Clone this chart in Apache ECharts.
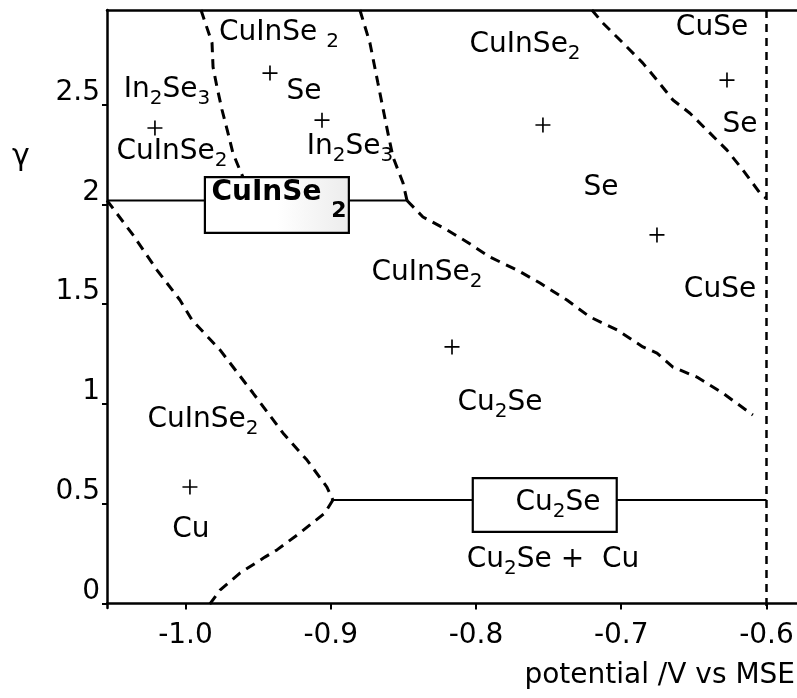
<!DOCTYPE html>
<html><head><meta charset="utf-8">
<script src="https://cdn.jsdelivr.net/npm/echarts@6/dist/echarts.min.js"></script>
<style>html,body{margin:0;padding:0;background:#fff}#c{width:797px;height:698px}</style>
</head><body><div id="c"></div>
<script>
// axis ticks
const xTicks = [-1.0, -0.9, -0.8, -0.7, -0.6];
const yTicks = [0, 0.5, 1, 1.5, 2, 2.5];
const xRange = [-1.054, -0.579];
const yRange = [-0.022, 2.974];

// phase boundaries (dashed)
const bLeftTop = [[-0.9893,2.974],[-0.9817,2.809],[-0.9810,2.688],[-0.9783,2.588],[-0.9748,2.473],[-0.9707,2.357],[-0.9673,2.257],[-0.9625,2.172],[-0.9604,2.137]];
const bMidTop = [[-0.8799,2.974],[-0.8730,2.809],[-0.8675,2.608],[-0.8606,2.357],[-0.8571,2.237],[-0.8502,2.107],[-0.8475,2.02]];
const bLeftDiag = [[-1.054,2.02],[-1.0361,1.847],[-1.0196,1.671],[-1.0038,1.521],[-0.9955,1.421],[-0.9762,1.271],[-0.9535,1.055],[-0.9329,0.855],[-0.9163,0.719],[-0.9026,0.584],[-0.8985,0.519]];
const bLowLeft = [[-0.8985,0.519],[-0.9040,0.454],[-0.9212,0.354],[-0.9370,0.269],[-0.9453,0.233],[-0.9625,0.153],[-0.9762,0.068],[-0.9852,-0.022]];
const bMiddle = [[-0.8475,2.02],[-0.8365,1.937],[-0.8199,1.872],[-0.8062,1.812],[-0.7903,1.736],[-0.7717,1.671],[-0.7559,1.606],[-0.7374,1.521],[-0.7215,1.436],[-0.7029,1.371],[-0.6851,1.286],[-0.6754,1.255],[-0.6644,1.185],[-0.6479,1.135],[-0.6301,1.055],[-0.6094,0.945]];
const bRightTop = [[-0.7202,2.974],[-0.7127,2.909],[-0.6988,2.809],[-0.6851,2.708],[-0.6754,2.623],[-0.6644,2.523],[-0.6527,2.457],[-0.6389,2.357],[-0.6272,2.272],[-0.6162,2.172],[-0.6045,2.057],[-0.6004,2.032]];
const bVertical = [[-0.6,2.974],[-0.6,-0.022]];

// solid lines (with boxes)
const hiLineA = [[-1.054,2.02],[-0.9866,2.02]];
const hiLineB = [[-0.8875,2.02],[-0.8475,2.02]];
const loLineA = [[-0.8985,0.519],[-0.8022,0.519]];
const loLineB = [[-0.7031,0.519],[-0.6,0.519]];
const boxCuInSe2 = [[-0.9866,2.137],[-0.8875,1.857]];
const boxCu2Se = [[-0.8022,0.629],[-0.7031,0.359]];

// "+" markers
const plusX = [-0.9418,-0.9060,-1.0210,-0.7539,-0.6754,-0.6272,-0.8165,-0.9969];
const plusY = [2.658,2.422,2.383,2.398,1.847,2.623,1.286,0.584];

// text labels
const labelTexts = ['CuInSe {s|2}','Se','In{s|2}Se{s|3}','In{s|2}Se{s|3}','CuInSe{s|2}','CuInSe{s|2}','Se','CuSe','Se','CuInSe{s|2}','CuSe','Cu{s|2}Se','CuInSe{s|2}','Cu','Cu{s|2}Se +  Cu','Cu{s|2}Se','{b|CuInSe }{sb|2}'];
const labelX = [-0.9356,-0.9184,-0.8867,-1.0127,-1.0093,-0.7662,-0.7139,-0.6375,-0.6182,-0.8337,-0.6320,-0.7835,-0.9879,-0.9962,-0.7470,-0.7435,-0.9356];
const labelY = [2.859,2.563,2.287,2.573,2.262,2.798,2.082,2.884,2.398,1.656,1.571,1.005,0.920,0.369,0.218,0.504,2.057];

const FF = 'DejaVu Sans';
const chart = echarts.init(document.getElementById('c'), null, {renderer:'canvas'});

function dashed(data, dash, w) {
  return {type:'line', data:data, symbol:'none', showSymbol:false, silent:true, z:3,
    lineStyle:{color:'#000', width:w||3, type:dash||[10,7]}};
}
function solid(data, extra) {
  const s = {type:'line', data:data, symbol:'none', showSymbol:false, silent:true, z:3,
    lineStyle:{color:'#000', width:2}};
  return Object.assign(s, extra||{});
}
function boxArea(b, fill) {
  return {silent:true, itemStyle:{color:fill, borderColor:'#000', borderWidth:2.2, opacity:1},
    data:[[{coord:b[0]},{coord:b[1]}]]};
}

const option = {
  animation:false,
  backgroundColor:'#fff',
  grid:{left:107, right:0, top:10, bottom:90},
  xAxis:[{
    type:'value', min:xRange[0], max:xRange[1], position:'bottom',
    splitLine:{show:false},
    axisLine:{show:true, lineStyle:{color:'#000', width:2.5}},
    axisTick:{show:true, customValues:xTicks, length:6, lineStyle:{color:'#000', width:2}},
    axisLabel:{show:true, customValues:xTicks, margin:14, color:'#000', fontSize:28, fontFamily:FF,
      formatter:function(v){return v.toFixed(1);}}
  },{
    type:'value', min:xRange[0], max:xRange[1], position:'top',
    splitLine:{show:false}, axisTick:{show:false}, axisLabel:{show:false},
    axisLine:{show:true, lineStyle:{color:'#000', width:2.5}}
  }],
  yAxis:{
    type:'value', min:yRange[0], max:yRange[1],
    splitLine:{show:false},
    axisLine:{show:true, lineStyle:{color:'#000', width:2.5}},
    axisTick:{show:true, customValues:yTicks, length:5, lineStyle:{color:'#000', width:2}},
    axisLabel:{show:true, customValues:yTicks, margin:7, color:'#000', fontSize:28, fontFamily:FF,
      verticalAlign:'bottom', lineHeight:24, formatter:function(v){return String(v);}}
  },
  graphic:[
    {type:'text', left:12, top:142, style:{text:'γ', fontSize:30, fontFamily:FF, fill:'#000'}},
    {type:'text', right:2, top:662, style:{text:'potential /V vs MSE', fontSize:28, fontFamily:FF, fill:'#000'}}
  ],
  series:[
    dashed(bLeftTop), dashed(bMidTop), dashed(bLeftDiag), dashed(bLowLeft),
    dashed(bMiddle), dashed(bRightTop), dashed(bVertical,[8,6],2.5),
    solid(hiLineA), solid(hiLineB, {markArea: boxArea(boxCuInSe2,
      new echarts.graphic.LinearGradient(0,0,1,0,[{offset:0,color:'#fff'},{offset:0.5,color:'#fff'},{offset:1,color:'#ececec'}]))}),
    solid(loLineA), solid(loLineB, {markArea: boxArea(boxCu2Se, '#fff')}),
    {type:'scatter', silent:true, z:5,
      symbol:'path://M8.9,0h2.2v20h-2.2z M0,8.9h20v2.2h-20z', symbolSize:15,
      itemStyle:{color:'#000', opacity:1},
      data: plusX.map(function(x,i){return [x, plusY[i]];})},
    {type:'scatter', silent:true, z:6, symbolSize:0,
      itemStyle:{opacity:1},
      data: labelX.map(function(x,i){return [x, labelY[i]];}),
      label:{show:true, position:'inside', color:'#000', opacity:1, fontSize:28, fontFamily:FF,
        formatter:function(p){return labelTexts[p.dataIndex];},
        rich:{
          s:{fontSize:20, fontFamily:FF, color:'#000', padding:[18,0,0,0]},
          b:{fontSize:28, fontFamily:FF, color:'#000', fontWeight:'bold'},
          sb:{fontSize:22, fontFamily:FF, color:'#000', fontWeight:'bold', padding:[36,0,0,0]}
        }}
    }
  ]
};
chart.setOption(option);
</script>
</body></html>
